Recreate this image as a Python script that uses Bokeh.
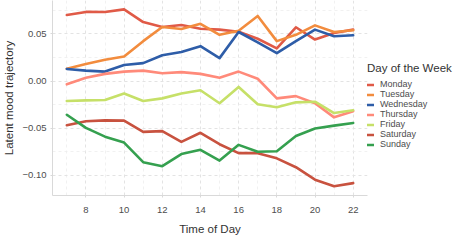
from bokeh.plotting import figure
from bokeh.models import (Legend, LegendItem, FixedTicker, CustomJSTickFormatter,
                          Range1d, ColumnDataSource)
from bokeh.embed import file_html
from bokeh.resources import INLINE

hours = [7, 8, 9, 10, 11, 12, 13, 14, 15, 16, 17, 18, 19, 20, 21, 22]

monday = [0.0700, 0.0733, 0.0732, 0.0760, 0.0625, 0.0573, 0.0594, 0.0555,
          0.0545, 0.0522, 0.0448, 0.0347, 0.0570, 0.0440, 0.0510, 0.0545]
tuesday = [0.0130, 0.0180, 0.0225, 0.0260, 0.0423, 0.0573, 0.0552, 0.0607,
           0.0490, 0.0534, 0.0690, 0.0423, 0.0490, 0.0590, 0.0520, 0.0538]
wednesday = [0.0128, 0.0110, 0.0100, 0.0170, 0.0190, 0.0274, 0.0308, 0.0370,
             0.0243, 0.0520, 0.0410, 0.0295, 0.0423, 0.0545, 0.0475, 0.0485]
thursday = [-0.0035, 0.0034, 0.0076, 0.0100, 0.0110, 0.0083, 0.0094, 0.0076,
            0.0034, 0.0100, 0.0024, -0.0184, -0.0160, -0.0236, -0.0385, -0.0320]
friday = [-0.0212, -0.0205, -0.0202, -0.0132, -0.0212, -0.0184, -0.0132, -0.0098,
          -0.0236, -0.0063, -0.0247, -0.0278, -0.0226, -0.0219, -0.0340, -0.0310]
saturday = [-0.0469, -0.0427, -0.0417, -0.0420, -0.0539, -0.0531, -0.0646, -0.0549,
            -0.0670, -0.0765, -0.0765, -0.0820, -0.0914, -0.1046, -0.1115, -0.1083]
sunday = [-0.0358, -0.0497, -0.0590, -0.0653, -0.0861, -0.0903, -0.0775, -0.0729,
          -0.0844, -0.0677, -0.0750, -0.0744, -0.0583, -0.0504, -0.0473, -0.0445]

days = ["Monday", "Tuesday", "Wednesday", "Thursday", "Friday", "Saturday", "Sunday"]
series = [monday, tuesday, wednesday, thursday, friday, saturday, sunday]
colors = ["#E05A47", "#F28C3E", "#2E5DA8", "#FF8A7A", "#C6E068", "#C8523F", "#35A04F"]

y_ticks = [-0.10, -0.05, 0.0, 0.05]
y_minor = [-0.125, -0.075, -0.025, 0.025, 0.075]
x_ticks = [8, 10, 12, 14, 16, 18, 20, 22]
x_minor = [7, 9, 11, 13, 15, 17, 19, 21]

FONT = "Liberation Sans"

p = figure(frame_width=315, frame_height=195, output_backend="svg",
           toolbar_location=None, min_border_left=0, min_border_top=0,
           min_border_bottom=0, min_border_right=0,
           x_range=Range1d(6.25, 22.75), y_range=Range1d(-0.1214, 0.0854),
           background_fill_color="white", border_fill_color="white")
p.outline_line_color = None

renderers = []
for name, vals, col in zip(days, series, colors):
    src = ColumnDataSource(dict(x=hours, y=vals))
    r = p.line("x", "y", source=src, line_color=col, line_width=2.6,
               line_join="round", line_cap="round")
    renderers.append(r)

# axes
for ax in (p.xaxis[0], p.yaxis[0]):
    ax.axis_line_color = "#D9D9D9"
    ax.axis_line_width = 1
    ax.major_tick_line_color = "#D9D9D9"
    ax.major_tick_in = 0
    ax.major_tick_out = 2
    ax.minor_tick_line_color = None
    ax.major_label_text_font = FONT
    ax.major_label_text_font_size = "9.5px"
    ax.major_label_text_color = "#4D4D4D"
    ax.axis_label_text_font = FONT
    ax.axis_label_text_font_size = "11.5px"
    ax.axis_label_text_font_style = "normal"
    ax.axis_label_text_color = "#333333"

p.xaxis.ticker = FixedTicker(ticks=x_ticks, minor_ticks=x_minor)
p.yaxis.ticker = FixedTicker(ticks=y_ticks, minor_ticks=y_minor)
p.yaxis.formatter = CustomJSTickFormatter(
    code="return tick.toFixed(2).replace('-', '\u2212');")
p.xaxis.axis_label = "Time of Day"
p.yaxis.axis_label = "Latent mood trajectory"
p.xaxis.major_label_standoff = 7
p.yaxis.major_label_standoff = 2
p.xaxis.axis_label_standoff = 7
p.yaxis.axis_label_standoff = 4

for g in (p.xgrid[0], p.ygrid[0]):
    g.grid_line_color = "#E3E3E3"
    g.grid_line_dash = "3 3"
    g.grid_line_width = 1
    g.minor_grid_line_color = "#EEEEEE"
    g.minor_grid_line_dash = "3 3"
    g.minor_grid_line_width = 0.8

items = [LegendItem(label=d, renderers=[r]) for d, r in zip(days, renderers)]
legend = Legend(items=items, location=(0, 46), title="Day of the Week",
                title_text_font=FONT, title_text_font_size="11.5px",
                title_text_color="#333333", title_text_font_style="normal",
                title_standoff=5,
                label_text_font=FONT, label_text_font_size="9px",
                label_text_line_height=1.0,
                label_text_color="#4D4D4D", label_height=9, label_standoff=6,
                glyph_width=7, glyph_height=9, spacing=-1, padding=0,
                margin=6, border_line_color=None, background_fill_alpha=0)
p.add_layout(legend, "right")

open("out.html", "w").write(file_html(p, INLINE))
